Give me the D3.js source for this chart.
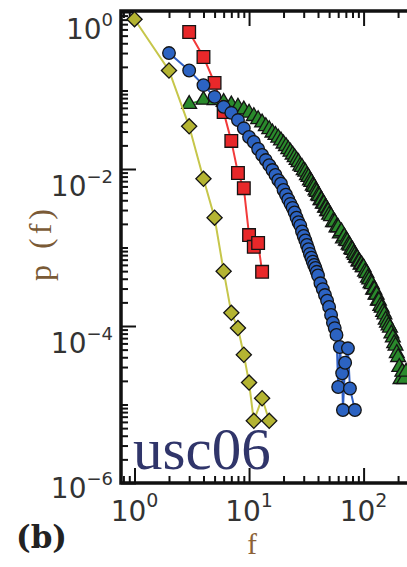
<!DOCTYPE html>
<html>
<head>
<meta charset="utf-8">
<script src="https://cdn.jsdelivr.net/npm/d3@7"></script>
<style>
  body { margin: 0; background: #fff; }
  svg { display: block; }
</style>
</head>
<body>
<script>
// data (f = frequency, p = probability)
const yellowF = [1, 2, 3, 4, 5, 6, 7, 8, 9, 10, 11, 13, 15];
const yellowP = [0.81, 0.18, 0.035, 0.0075, 0.0024, 5.0e-4, 1.47e-4, 9.4e-5, 4.3e-5, 1.9e-5, 6.2e-6, 1.2e-5, 6.2e-6];

const redF = [3, 4, 5, 6, 7, 8, 9, 10, 11, 12, 13];
const redP = [0.556, 0.267, 0.125, 0.053, 0.0228, 0.0089, 0.0057, 0.00144, 0.00102, 0.00114, 4.9e-4];

const blueF = [2, 3, 4, 5, 6, 7, 8, 9, 10, 11, 12, 13, 14, 15, 16, 17, 18, 19, 20,
  21, 22, 23, 24, 25, 26, 27, 28, 29, 30, 31, 32, 33, 34, 35, 36, 37, 38, 39, 40,
  42, 44, 46, 48, 50, 52, 54, 56, 58, 60, 62, 65, 66, 69, 73, 76, 84];
const blueP = [0.30, 0.18, 0.117, 0.083, 0.062, 0.052, 0.042, 0.033, 0.0256, 0.0221, 0.018, 0.0151, 0.013, 0.0112, 0.0097, 0.0084, 0.0072, 0.0065, 0.0054,
  0.0047, 0.0041, 0.0036, 0.0032, 0.0028, 0.0024, 0.0021, 0.0019, 0.0016, 0.0014, 0.00123, 0.00108, 0.00095, 0.00083, 0.00074, 0.00066, 0.0006, 0.00055, 0.00049, 0.00044,
  0.00035, 0.000295, 0.000248, 0.00021, 0.000175, 0.000138, 0.00011, 0.000094, 0.000077, 0.0000167, 0.000054, 0.000025, 0.0000085, 0.000034, 0.000052, 0.000016, 0.0000085];

const greenF = [3, 4, 5, 6, 7, 8, 9, 10, 11, 12, 13, 14, 15, 16, 17, 18, 19, 20,
  21, 22, 23, 24, 25, 26, 27, 28, 29, 30, 31, 32, 33, 34, 35, 36, 37, 38, 39, 40,
  41, 42, 43, 44, 45, 46, 47, 48, 49, 50, 52, 54, 56, 58, 60, 62, 64, 66, 68, 70,
  72, 74, 76, 78, 80, 82, 84, 86, 88, 90, 92, 94, 96, 98, 100, 103, 106, 109, 112, 115,
  118, 121, 124, 127, 130, 133, 136, 140, 144, 148, 152, 156, 160, 165, 170, 175, 180,
  185, 190, 195, 200, 205, 210, 218, 226, 235];
const greenP = [0.067, 0.076, 0.075, 0.071, 0.066, 0.062, 0.057, 0.052, 0.047, 0.043, 0.039, 0.035, 0.032, 0.029, 0.027, 0.025, 0.023, 0.021,
  0.0195, 0.0178, 0.0165, 0.0152, 0.0141, 0.013, 0.0122, 0.0110, 0.0106, 0.0096, 0.0092, 0.0083, 0.0079, 0.0071, 0.0068, 0.0061, 0.0059, 0.0053, 0.0051, 0.0046,
  0.0045, 0.0040, 0.0040, 0.0036, 0.0036, 0.0032, 0.0032, 0.0029, 0.0029, 0.0026, 0.0025, 0.0021, 0.0021, 0.0018, 0.0018, 0.0015, 0.0016, 0.0013, 0.00138, 0.00122,
  0.0012, 0.00108, 0.00105, 0.00095, 0.00093, 0.00084, 0.0008, 0.00074, 0.00073, 0.00066, 0.00066, 0.0006, 0.00061, 0.00056, 0.00056, 0.00049, 0.00047, 0.00041, 0.00039, 0.00035,
  0.00034, 0.00029, 0.00029, 0.00025, 0.00025, 0.00021, 0.00021, 0.00018, 0.00017, 0.00015, 0.00014, 0.00012, 0.00011, 0.000101, 0.000095, 0.00008, 0.000071,
  0.00006, 0.000056, 0.000045, 0.00004, 0.00003, 0.000021, 0.000026, 0.000021, 0.000026];

const xMajor = [1, 10, 100];
const xMajorExp = ["0", "1", "2"];
const yMajor = [1, 1e-2, 1e-4, 1e-6];
const yMajorExp = ["0", "\u22122", "\u22124", "\u22126"];

const W = 407, H = 567;
const plotLeft = 121, plotTop = 11, plotBottom = 483, plotRight = 430;

const svg = d3.select("body").append("svg")
    .attr("width", W)
    .attr("height", H);

const x = d3.scaleLog().domain([0.762, 380]).range([plotLeft, plotRight]);
const y = d3.scaleLog().domain([1e-6, 1.03]).range([plotBottom, plotTop]);

const isMajorX = v => xMajor.some(m => Math.abs(m - v) < 1e-9 * m);
const isMajorY = v => yMajor.some(m => Math.abs(m - v) < 1e-9 * m);
const xMinor = x.ticks().filter(v => !isMajorX(v));
const yMinor = y.ticks().filter(v => !isMajorY(v));

function drawAxis(axis, tx, ty) {
  const g = svg.append("g")
      .attr("transform", `translate(${tx},${ty})`)
      .call(axis);
  g.select(".domain").remove();
  g.selectAll(".tick line").attr("stroke", "#111").attr("stroke-width", 2);
  g.selectAll(".tick text").remove();
}

// ticks point inwards
drawAxis(d3.axisBottom(x).tickValues(xMinor).tickSize(-7).tickFormat(""), 0, plotBottom);
drawAxis(d3.axisBottom(x).tickValues(xMajor).tickSize(-15).tickFormat(""), 0, plotBottom);
drawAxis(d3.axisTop(x).tickValues(xMinor).tickSize(-7).tickFormat(""), 0, plotTop);
drawAxis(d3.axisTop(x).tickValues(xMajor).tickSize(-15).tickFormat(""), 0, plotTop);
drawAxis(d3.axisLeft(y).tickValues(yMinor).tickSize(-7).tickFormat(""), plotLeft, 0);
drawAxis(d3.axisLeft(y).tickValues(yMajor).tickSize(-15).tickFormat(""), plotLeft, 0);

// frame
svg.append("path")
    .attr("d", `M${plotRight},${plotTop}H${plotLeft}V${plotBottom}H${plotRight}`)
    .attr("fill", "none")
    .attr("stroke", "#111")
    .attr("stroke-width", 3.5);

// data series
const series = [
  {f: greenF, p: greenP, line: "#2f9a30", fill: "#2a8a2c", shape: d3.symbolTriangle, size: 95, rot: 0},
  {f: redF, p: redP, line: "#f23a3a", fill: "#e8282a", shape: d3.symbolSquare, size: 160, rot: 0},
  {f: blueF, p: blueP, line: "#2f5fc4", fill: "#2c63c2", shape: d3.symbolCircle, size: 125, rot: 0},
  {f: yellowF, p: yellowP, line: "#c6c64a", fill: "#b4b432", shape: d3.symbolSquare, size: 115, rot: 45}
];

const line = d3.line().x(d => x(d[0])).y(d => y(d[1]));

series.forEach(s => {
  const pts = s.f.map((f, i) => [f, s.p[i]]);
  svg.append("path")
      .datum(pts)
      .attr("d", line)
      .attr("fill", "none")
      .attr("stroke", s.line)
      .attr("stroke-width", 2);
  svg.append("g").selectAll("path")
      .data(pts)
      .enter().append("path")
      .attr("d", d3.symbol().type(s.shape).size(s.size))
      .attr("transform", d => `translate(${x(d[0])},${y(d[1])}) rotate(${s.rot})`)
      .attr("fill", s.fill)
      .attr("stroke", "#141414")
      .attr("stroke-width", 1.3);
});

// tick labels
const xl = svg.append("g")
    .attr("font-family", "DejaVu Sans")
    .attr("fill", "#333");
xMajor.forEach((v, i) => {
  const t = xl.append("text")
      .attr("x", x(v))
      .attr("y", 521)
      .attr("text-anchor", "middle")
      .attr("font-size", 28)
      .text("10");
  t.append("tspan").attr("dy", -14).attr("font-size", 19).text(xMajorExp[i]);
});
yMajor.forEach((v, i) => {
  const t = xl.append("text")
      .attr("x", 113)
      .attr("y", Math.min(y(v) + 27, 498))
      .attr("text-anchor", "end")
      .attr("font-size", 28)
      .text("10");
  t.append("tspan").attr("dy", -13).attr("font-size", 18).text(yMajorExp[i]);
});

// axis titles
svg.append("text")
    .attr("transform", "translate(51,243) rotate(-90)")
    .attr("text-anchor", "middle")
    .attr("font-family", "Liberation Serif")
    .attr("font-size", 32)
    .attr("letter-spacing", 4)
    .attr("fill", "#7a5a36")
    .text("p (f)");

svg.append("text")
    .attr("x", 252)
    .attr("y", 554)
    .attr("text-anchor", "middle")
    .attr("font-family", "Liberation Serif")
    .attr("font-size", 29)
    .attr("fill", "#8c6236")
    .text("f");

svg.append("text")
    .attr("x", 133)
    .attr("y", 469)
    .attr("font-family", "Liberation Serif")
    .attr("font-size", 59)
    .attr("fill", "#30356a")
    .text("usc06");

svg.append("text")
    .attr("x", 16)
    .attr("y", 548)
    .attr("font-family", "DejaVu Serif")
    .attr("font-weight", "bold")
    .attr("font-size", 31)
    .attr("fill", "#222")
    .text("(b)");
</script>
</body>
</html>
